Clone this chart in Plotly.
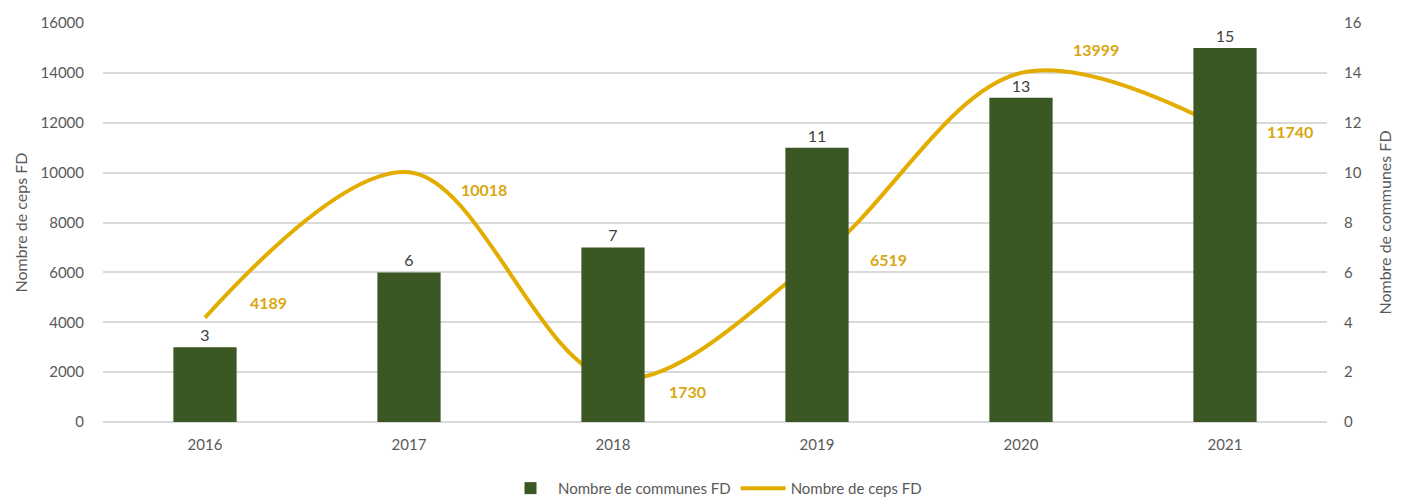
import plotly.graph_objects as go

years = ["2016", "2017", "2018", "2019", "2020", "2021"]
communes = [3, 6, 7, 11, 13, 15]
ceps = [4189, 10018, 1730, 6519, 13999, 11740]

# label pixel offsets (style only)
label_dx = [63, 75, 74, 71, 75, 65]
label_dy = [15, -17, -13, 0, 23, -2]

bar_color = "#3A5724"
line_color = "#E3AD00"
label_color = "#D9A711"
grid = "#D9D9D9"
txt = "#595959"
font = "Lato, 'Open Sans', sans-serif"

fig = go.Figure()
fig.add_trace(go.Bar(
    x=years, y=communes, name="Nombre de communes FD", yaxis="y2",
    marker=dict(color=bar_color, line=dict(width=0)), width=0.31,
    text=[str(v) for v in communes], textposition="outside",
    textfont=dict(size=16, color="#404040", family=font), cliponaxis=False,
))
fig.add_trace(go.Scatter(
    x=years, y=ceps, name="Nombre de ceps FD", mode="lines", yaxis="y",
    line=dict(color=line_color, width=4, shape="spline", smoothing=1.0),
))

for i, (v, dx, dy) in enumerate(zip(ceps, label_dx, label_dy)):
    fig.add_annotation(x=i, y=v, xref="x", yref="y", text=f"<b>{v}</b>",
                       showarrow=False, xshift=dx, yshift=dy,
                       font=dict(size=16, color=label_color, family=font))

fig.update_layout(
    width=1401, height=491,
    margin=dict(l=95, r=82, t=15, b=77, autoexpand=False),
    paper_bgcolor="white", plot_bgcolor="white",
    font=dict(family=font, color=txt, size=14),
    xaxis=dict(type="category", range=[-0.5, 5.5], showgrid=False, showline=False, ticks="",
               tickfont=dict(size=15, color=txt), ticklabelstandoff=12, automargin=False),
    yaxis=dict(range=[0, 16000], dtick=2000, tickformat="d", gridcolor=grid, gridwidth=1.5,
               zeroline=True, zerolinecolor=grid, zerolinewidth=1.5,
               showline=False, tickfont=dict(size=15, color=txt), automargin=False,
               title=dict(text="Nombre de ceps FD", font=dict(size=16, color=txt), standoff=8),
               ticklabelstandoff=18),
    yaxis2=dict(range=[0, 16], dtick=2, overlaying="y", side="right", showgrid=False,
                zeroline=False, showline=False, tickfont=dict(size=15, color=txt), automargin=False,
                title=dict(text="Nombre de communes FD", font=dict(size=16, color=txt), standoff=19),
                ticklabelstandoff=16),
    legend=dict(orientation="h", x=0.5, xanchor="center", y=-0.125, yanchor="top",
                font=dict(size=15, color=txt), traceorder="normal", itemwidth=45),
)

fig.write_html("out.html")
